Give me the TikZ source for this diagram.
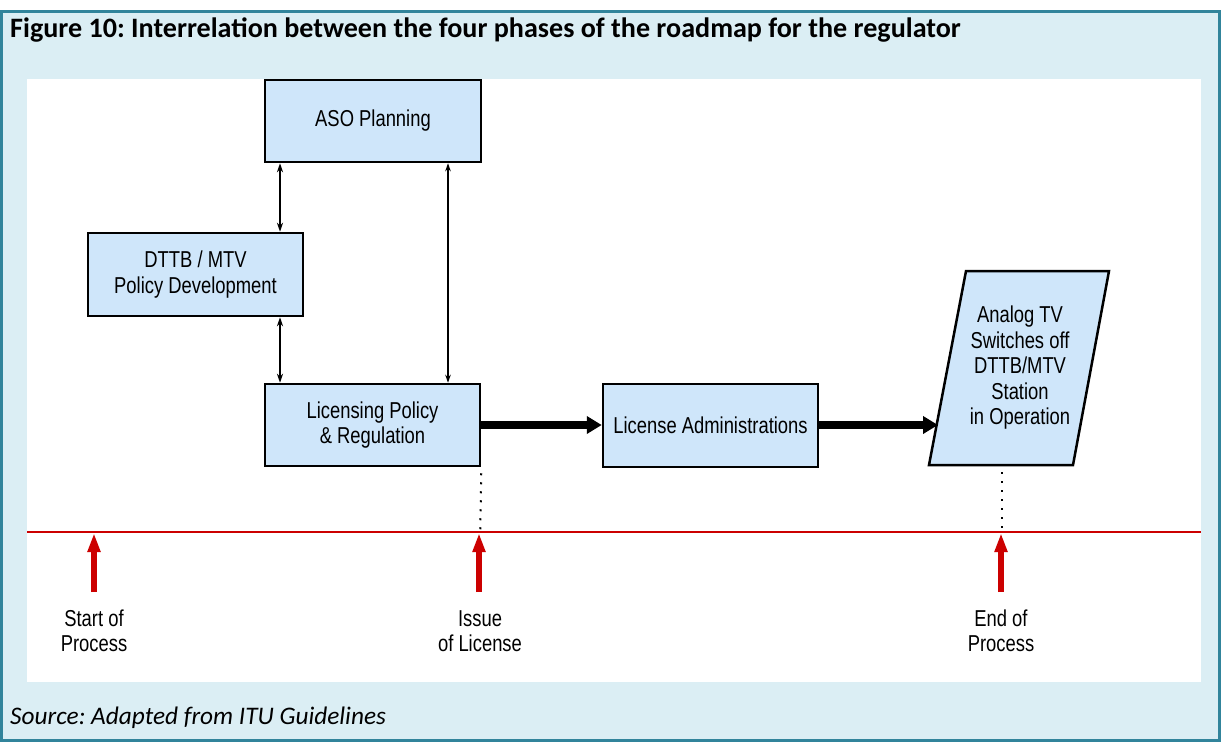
\documentclass[tikz,border=0pt]{standalone}
\usepackage{fontspec}
\setmainfont{Carlito}
\newfontfamily\diagfont[FakeStretch=0.8]{Liberation Sans}
\usetikzlibrary{arrows.meta}
\definecolor{frameteal}{RGB}{49,132,155}
\definecolor{panelblue}{RGB}{219,238,244}
\definecolor{boxblue}{RGB}{207,230,250}
\definecolor{lineRed}{RGB}{204,0,0}
\frenchspacing
\begin{document}
\begin{tikzpicture}[x=1pt,y=-1pt,
  box/.style={draw=black, line width=2.5pt, fill=boxblue, inner sep=0pt, align=center,
    font=\diagfont\fontsize{23}{25.5}\selectfont},
  dtext/.style={inner sep=0pt, align=center, font=\diagfont\fontsize{23}{25.5}\selectfont},
  medarrow/.style={line width=2.2pt, {Stealth[length=9pt,width=6pt]}-{Stealth[length=9pt,width=6pt]}},
  thinarrow/.style={line width=1.4pt, {Stealth[length=8pt,width=5.5pt]}-{Stealth[length=8pt,width=5.5pt]}},
  fatarrow/.style={line width=8pt, -{Triangle[length=15pt,width=17pt]}},
  redarrow/.style={draw=lineRed, line width=6pt, -{Triangle[length=19pt,width=12pt]}},
  dotline/.style={line width=2pt, dash pattern=on 2pt off 7pt}
]
\useasboundingbox (0,0) rectangle (1221,742);
% frame and panel
\draw[frameteal, line width=3pt, fill=panelblue] (1.5,11.5) rectangle (1219.5,740.5);
\fill[white] (27,79) rectangle (1201,682);
% title and source
\node[anchor=base west, inner sep=0pt, font=\bfseries\fontsize{28.1}{31}\selectfont] (title) at (10,37)
  {Figure 10: Interrelation between the four phases of the roadmap for the regulator};
\node[anchor=base west, inner sep=0pt, font=\itshape\fontsize{25.3}{28}\selectfont] (source) at (10,724)
  {Source: Adapted from ITU Guidelines};
% boxes
\node[box, minimum width=216pt, minimum height=82pt] (aso) at (373,121) {ASO Planning};
\node[box, minimum width=215pt, minimum height=83pt] (dttb) at (195.5,274.5) {DTTB / MTV\\Policy Development};
\node[box, minimum width=215pt, minimum height=82pt] (lic) at (372.5,425) {Licensing Policy\\\& Regulation};
\node[box, minimum width=215pt, minimum height=83pt] (admin) at (710.5,425.5) {License Administrations};
% parallelogram
\draw[draw=black, line width=2.5pt, fill=boxblue] (966,271) -- (1109,271) -- (1073,465) -- (929,465) -- cycle;
\node[dtext] (analog) at (1020,368) {Analog TV\\Switches off\\DTTB/MTV\\Station\\in Operation};
\coordinate (pin) at (938,425);
\coordinate (pbot) at (1002,466);
% connectors
\coordinate (xa) at (280,0);
\coordinate (xb) at (448,0);
\draw[medarrow] (aso.south -| xa) -- (dttb.north -| xa);
\draw[medarrow] (dttb.south -| xa) -- (lic.north -| xa);
\draw[thinarrow] (aso.south -| xb) -- (lic.north -| xb);
\draw[fatarrow] (lic.east) -- (admin.west |- lic.east);
\draw[fatarrow] (admin.east |- pin) -- (pin);
% timeline
\coordinate (tl) at (27,532);
\coordinate (tr) at (1201,532);
\draw[lineRed, line width=2pt] (tl) -- (tr);
\coordinate (m1) at (94,592);
\coordinate (m2) at (479,592);
\coordinate (m3) at (1001,592);
\draw[dotline] ([yshift=-6pt]lic.south east) -- ([xshift=-1pt]lic.south east |- tl);
\draw[dotline] ([yshift=-6pt]pbot) -- (pbot |- tl);
\draw[redarrow] (m1) -- ([yshift=-1pt]m1 |- tl);
\draw[redarrow] (m2) -- ([yshift=-1pt]m2 |- tl);
\draw[redarrow] (m3) -- ([yshift=-1pt]m3 |- tl);
\node[dtext] (l1) at (94,631) {Start of\\Process};
\node[dtext] (l2) at (480,631) {Issue\\of License};
\node[dtext] (l3) at (1001,631) {End of\\Process};
\end{tikzpicture}
\end{document}
